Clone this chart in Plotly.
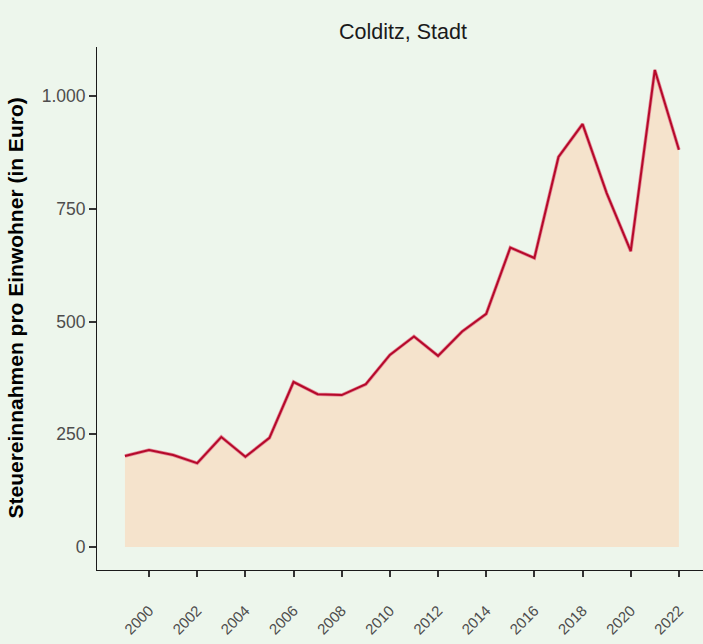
import plotly.graph_objects as go

years = list(range(1999, 2023))
values = [202, 215, 204, 186, 244, 200, 242, 366, 339, 337, 361, 426,
          467, 424, 478, 517, 664, 641, 865, 938, 785, 656, 1058, 881]
x_ticks = list(range(2000, 2023, 2))
y_ticks = [0, 250, 500, 750, 1000]
y_labels = ["0", "250", "500", "750", "1.000"]
title_text = "Colditz, Stadt"
y_title = "Steuereinnahmen pro Einwohner (in Euro)"

bg = "#EDF6EC"
fig = go.Figure()
fig.add_trace(go.Scatter(x=years, y=values, mode="lines", fill="tozeroy",
                         fillcolor="#F5E3CC", line=dict(color="#E58A98", width=3.5),
                         hoverinfo="skip", showlegend=False))
fig.add_trace(go.Scatter(x=years, y=values, mode="lines",
                         line=dict(color="#B5092A", width=2),
                         showlegend=False))

fig.update_layout(
    width=703, height=644,
    paper_bgcolor=bg, plot_bgcolor=bg,
    margin=dict(l=97, r=0, t=47, b=74),
    font=dict(family="Liberation Sans, Arial, sans-serif", color="#4D4D4D", size=17),
    title=dict(text=title_text, x=0.505, xref="paper", xanchor="center",
               y=1 - 31 / 644, yref="container", yanchor="middle",
               font=dict(size=21.5, color="#1A1A1A")),
    xaxis=dict(range=[1997.84, 2023.0], tickvals=x_ticks, tickangle=-45,
               showgrid=False, zeroline=False, showline=True, linecolor="#1A1A1A",
               linewidth=1, ticks="outside", ticklen=6, tickwidth=2, tickcolor="#333333",
               tickfont=dict(size=15, color="#4D4D4D"), automargin=False,
               ticklabelstandoff=19),
    yaxis=dict(range=[-51, 1109], tickvals=y_ticks, ticktext=y_labels,
               showgrid=False, zeroline=False, showline=True, linecolor="#1A1A1A",
               linewidth=1, ticks="outside", ticklen=7, tickwidth=2, tickcolor="#333333",
               tickfont=dict(size=17.5, color="#4D4D4D"), automargin=False),
    annotations=[dict(text="<b>" + y_title + "</b>", textangle=-90,
                      x=0, xref="paper", xanchor="center", xshift=-82,
                      y=0.5, yref="paper", yanchor="middle", showarrow=False,
                      font=dict(size=21, color="#000000"))],
)
fig.write_html("out.html", config={"displayModeBar": False},
               post_script="document.body.style.margin='0';document.body.style.overflow='hidden';")
